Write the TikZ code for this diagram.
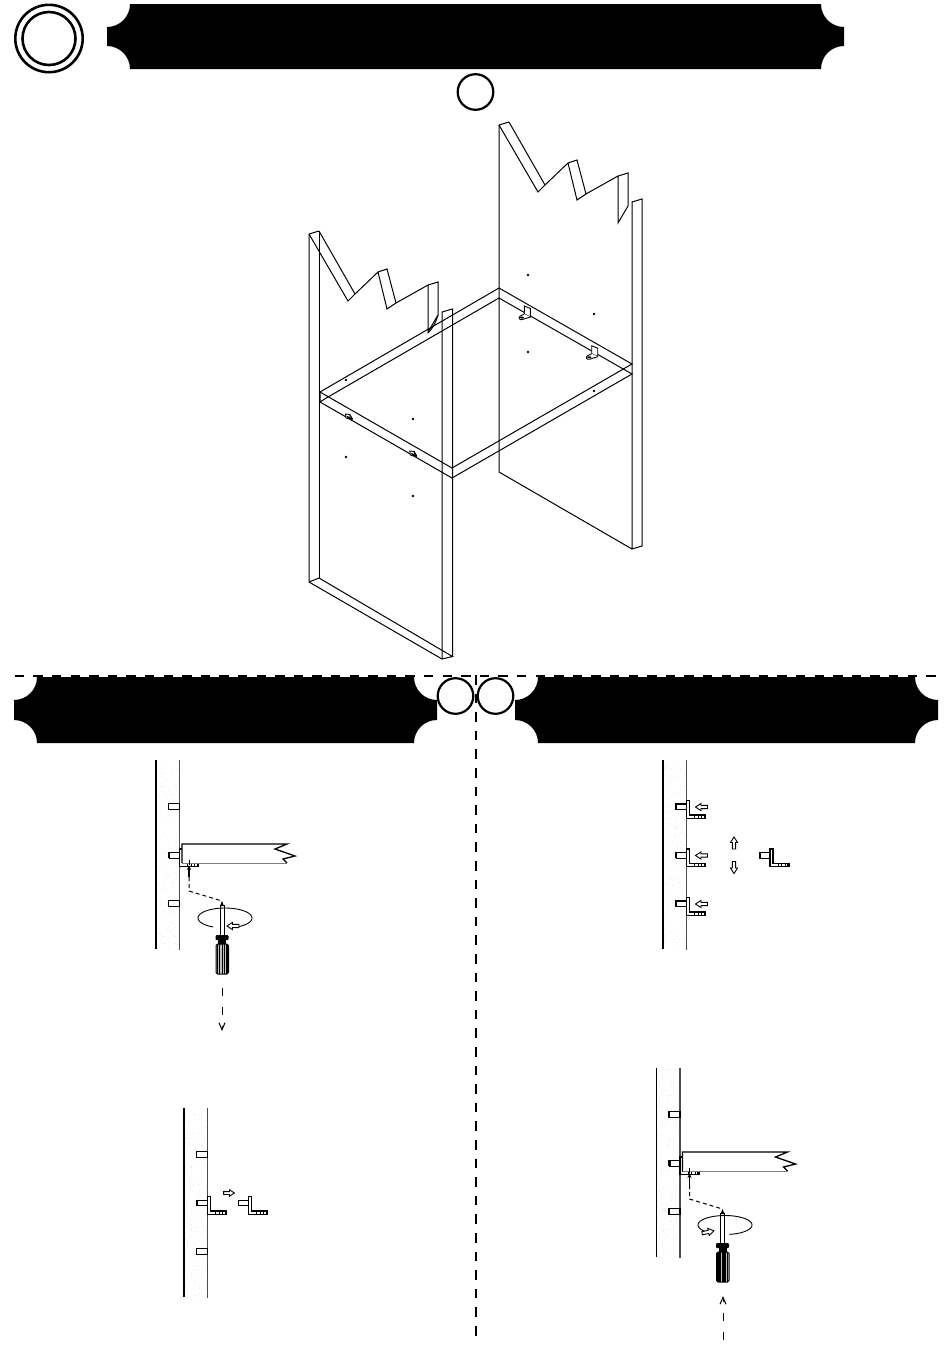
\documentclass[tikz,border=0pt]{standalone}
\usepackage{tikz}
\usetikzlibrary{arrows.meta}
\tikzset{
  part/.style={draw=black, line width=1pt, line join=miter},
  bar/.style={line width=1.6pt},
  cutline/.style={line width=2.2pt, dash pattern=on 9.5pt off 9.1pt},
  movearrow/.style={line width=1pt, dash pattern=on 8pt off 11pt},
  wallstrip/.pic={
    \foreach \k in {1,...,140} {
      \fill[black!18] ({1+rnd*22},{rnd*190}) circle (0.35);
    }
    \draw[line width=1.5pt] (0,0) -- (0,189);
    \draw[line width=1.5pt, black!70] (23.5,0) -- (23.5,190);
    \foreach \y in {46.5,95,143.5} {
      \draw[line width=1.1pt, fill=white] (12.5,\y-2.8) rectangle (23.5,\y+2.8);
    }
  },
  lclip/.pic={
    \draw[line width=1.1pt, fill=white] (-10,-2.8) rectangle (0,2.8);
    \draw[line width=1.3pt, fill=white] (0,-6.5) -- (3,-6.5) -- (3,8) -- (19,8) -- (19,11.2) -- (0,11.2) -- cycle;
    \foreach \x in {8,11.5,15,17.5} {
      \draw[line width=0.8pt] (\x,8) -- (\x,11.2);
    }
  },
  hollowarrow/.pic={
    \draw[line width=0.9pt, fill=white, line join=miter] (-6,-1.6) -- (0.5,-1.6) -- (0.5,-3.6) -- (6,0) -- (0.5,3.6) -- (0.5,1.6) -- (-6,1.6) -- cycle;
  },
  shelfclip/.pic={
    \draw[line width=0.9pt, fill=white] (0,0) -- (6,2.5) -- (6,11) -- (0,8) -- cycle;
    \draw[line width=0.9pt, fill=white] (0,8) -- (-4,10) .. controls (-6.5,11.5) and (-5,14.5) .. (-2,13.5) -- (6,11);
    \fill (-2.4,11.6) ellipse (2 and 1);
  },
  tinyclip/.pic={
    \draw[line width=0.9pt, fill=white] (-3.5,-3) -- (1,-2.5) -- (1,2) -- (-3,1) -- cycle;
    \draw[line width=1.4pt] (-2,-0.5) -- (3.5,2.5);
    \draw[line width=1pt] (1,-2) -- (3.5,2);
  },
  screwdriver/.pic={
    \draw[line width=0.9pt] (-2,4) -- (-2,34) (2,4) -- (2,34);
    \fill (-2,5) -- (0,0) -- (2,5) -- cycle;
    \fill[rounded corners=1pt] (-6.5,34) rectangle (6.5,39);
    \fill (-4,39) rectangle (4,43);
    \draw[line width=1pt, rounded corners=1.5pt, fill=black!25] (-6,43) rectangle (6.5,73);
    \foreach \x in {-4.5,-2.5,0.5,2.5,5} {
      \draw[line width=1.1pt] (\x,43) -- (\x,73);
    }
  },
  shelfview/.pic={
    % origin is the top of the wall strip
    \pic at (0,0) {wallstrip};
    \pic at (23.5,95.5) {lclip};
    \draw[line width=1.3pt, fill=white] (26,103) -- (26,84) -- (131,84) -- (119,89) -- (139,96) -- (127,99) -- (131,103);
    \draw[line width=0.6pt, black!50] (26,103) -- (131,103);
    \draw[line width=1.4pt, -{Stealth[length=5pt,width=4pt]}] (33,117) -- (33,105);
    \draw[line width=1pt] (33,100) -- (33,105);
    \draw[line width=1pt, dash pattern=on 4pt off 3pt] (33,117) -- (33,131) -- (66,141);
    \pic at (66,141) {screwdriver};
  }
}
\newcommand{\banner}[4]{% left, right, top, bottom
  \fill (#1+23,#3) -- (#2-23,#3)
    .. controls (#2-23,#3+12.7) and (#2-12.7,#3+23) .. (#2,#3+23)
    -- (#2,#4-23)
    .. controls (#2-12.7,#4-23) and (#2-23,#4-12.7) .. (#2-23,#4)
    -- (#1+23,#4)
    .. controls (#1+23,#4-12.7) and (#1+12.7,#4-23) .. (#1,#4-23)
    -- (#1,#3+23)
    .. controls (#1+12.7,#3+23) and (#1+23,#3+12.7) .. (#1+23,#3) -- cycle;
}
\newcommand{\tornside}[2]{% torn top of a side panel, #1,#2 is its left top corner
  \draw[part, shift={(#1,#2)}] (0,2) -- (10,-1) (0,2) -- (39,69) -- (46,62) -- (69,40) -- (78,37) -- (87,71)
    (10,-1) -- (46,62) (69,40) -- (78,77) -- (87,71) -- (119,53) -- (129,50) -- (129,83) -- (119,100) -- (119,53);
}
\begin{document}
\begin{tikzpicture}[x=1pt, y=-1pt]
  \useasboundingbox (0,0) rectangle (950,1353);
  % headings
  \banner{107}{844}{4}{69}
  \banner{14}{437}{677}{743}
  \banner{515}{938}{677}{743}
  \draw[line width=2.6pt] (49,38.5) circle (33.7);
  \draw[line width=2.6pt] (49,38.5) circle (26.5);
  \draw[line width=2.2pt] (475.5,92) circle (17.8);
  % cut lines
  \draw[cutline] (14.7,676) -- (938,676);
  \draw[cutline, line width=2.6pt] (476,675) -- (476,1340);
  \draw[line width=2.2pt, fill=white] (455.5,696) circle (17.8);
  \draw[line width=2.2pt, fill=white] (495.5,696) circle (17.8);
  % side panels
  \tornside{309}{232}
  \tornside{499}{123}
  \draw[part] (309,234) -- (309,582) -- (442,659) -- (452.5,656.5) -- (319,578) -- (309,582);
  \draw[part] (319,231) -- (319,578);
  \draw[part] (442,312) -- (452.5,309) -- (452.5,656.5) (442,312) -- (442,659) (438,315) .. controls (436,322) and (433,328) .. (428,333);
  \draw[part] (499,125) -- (499,472) -- (632,549) -- (642,546) -- (642,199) -- (632,202) -- (632,549);
  % shelf
  \draw[part] (320,392) -- (499,288) -- (632,364) -- (452,468) -- cycle;
  \draw[part] (320,402) -- (452,478) -- (632,374) -- (499,298) -- (328,397);
  \draw[part] (320,392) -- (320,402) -- (328,397);
  \foreach \x/\y in {346/380, 413/419, 346/457, 413/496, 528/275, 594/314, 528/352, 594/391} {
    \fill (\x,\y) circle (1.4);
  }
  \foreach \x/\y in {524.3/306, 591.7/345.7} {
    \pic at (\x,\y) {shelfclip};
  }
  \foreach \x/\y in {349/417, 413.3/454} {
    \pic at (\x,\y) {tinyclip};
  }
  % left column
  \pic at (156,760) {shelfview};
  \draw[line width=0.9pt] plot[domain=116:426, samples=60] ({225+27*cos(\x)},{918+10*sin(\x)});
  \pic[rotate=180] at (233,926) {hollowarrow};
  \draw[movearrow, -{Straight Barb[length=7pt,width=6pt]}] (222,988) -- (222,1031);
  \pic at (184,1108) {wallstrip};
  \pic at (207.5,1203) {lclip};
  \pic at (248.5,1203) {lclip};
  \pic[scale=0.9] at (229,1193) {hollowarrow};
  % right column
  \pic at (663,760) {wallstrip};
  \foreach \y in {807,855.5,904} {
    \pic at (686.5,\y) {lclip};
    \pic[rotate=180] at (701.5,\y) {hollowarrow};
  }
  \pic at (770,855.5) {lclip};
  \pic[rotate=90] at (734,843) {hollowarrow};
  \pic[rotate=-90] at (734,867.5) {hollowarrow};
  \pic at (656.5,1068) {shelfview};
  \draw[line width=0.9pt] plot[domain=-222:80, samples=60] ({725+27*cos(\x)},{1225+9.5*sin(\x)});
  \pic[rotate=12] at (708,1232) {hollowarrow};
  \draw[movearrow, -{Straight Barb[length=7pt,width=6pt]}] (723,1340) -- (723,1296);
\end{tikzpicture}
\end{document}
